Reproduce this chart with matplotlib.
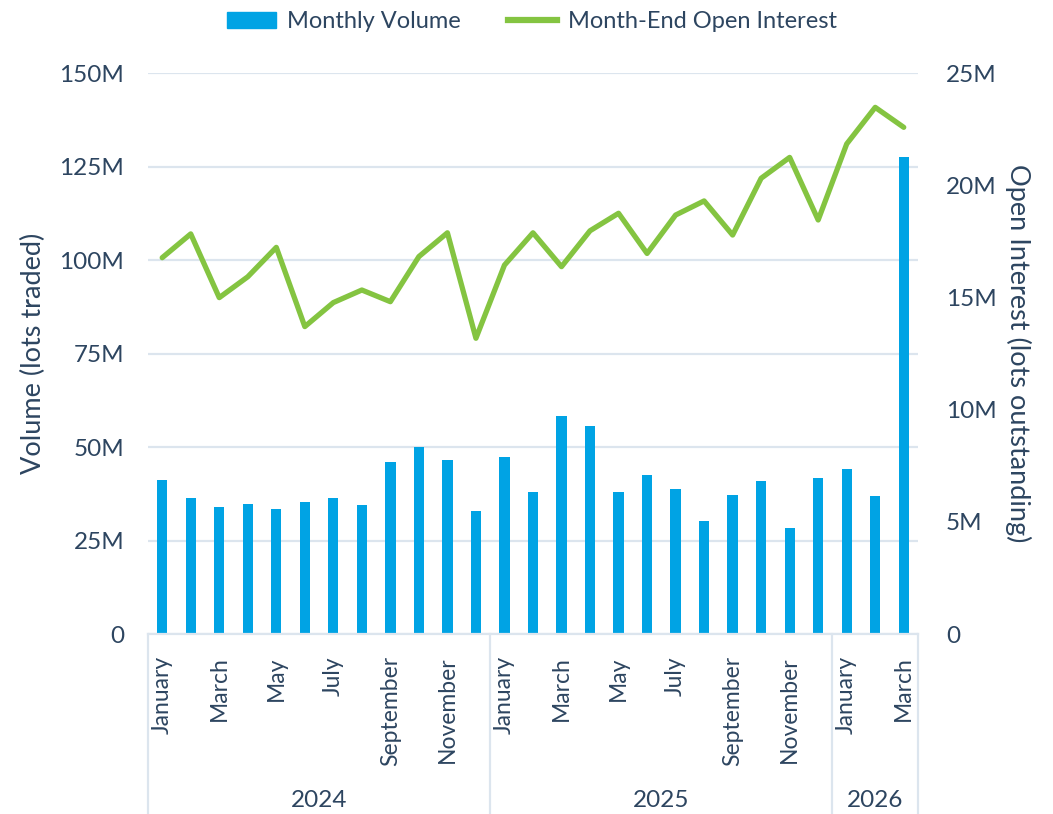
import numpy as np
import matplotlib
matplotlib.use("Agg")
import matplotlib.pyplot as plt
import matplotlib.transforms as mtransforms
from matplotlib.patches import Patch
from matplotlib.lines import Line2D

# data
months = ["January", "February", "March", "April", "May", "June", "July",
          "August", "September", "October", "November", "December"]
years = ["2024", "2025", "2026"]
months_per_year = [12, 12, 3]

volume = [41.3, 36.3, 33.9, 34.7, 33.3, 35.2, 36.3, 34.4, 46.1, 50.1, 46.6, 32.8,
          47.4, 37.9, 58.3, 55.7, 37.9, 42.4, 38.9, 30.1, 37.3, 41.0, 28.3, 41.8,
          44.0, 36.8, 127.5]
open_interest = [16.77, 17.83, 14.99, 15.92, 17.23, 13.70, 14.77, 15.33, 14.81, 16.82, 17.88, 13.18,
                 16.44, 17.88, 16.37, 17.97, 18.75, 16.96, 18.67, 19.30, 17.78, 20.31, 21.24, 18.45,
                 21.84, 23.47, 22.58]

month_labels = []
for n in months_per_year:
    month_labels += months[:n]

BLUE = "#00a3e4"
GREEN = "#84c441"
TEXT = "#2d4560"
GRID = "#dce5ee"

plt.rcParams["font.family"] = ["Lato", "DejaVu Sans"]

fig = plt.figure(figsize=(10.53, 8.14), dpi=100)
ax = fig.add_axes([0.1405, 0.2211, 0.7313, 0.6892])
ax2 = ax.twinx()

x = np.arange(len(volume))
ax.bar(x, volume, width=0.36, color=BLUE, zorder=2)
ax2.plot(x, open_interest, color=GREEN, lw=3.8, solid_joinstyle="round",
         solid_capstyle="round", zorder=3)

ax.set_xlim(-0.5, len(volume) - 0.5)
ax.set_ylim(0, 150)
ax2.set_ylim(0, 25)
ax.set_yticks(np.arange(0, 151, 25))
ax2.set_yticks(np.arange(0, 26, 5))
fmt = lambda v, p: "0" if v == 0 else f"{int(v)}M"
ax.yaxis.set_major_formatter(plt.FuncFormatter(fmt))
ax2.yaxis.set_major_formatter(plt.FuncFormatter(fmt))

ax.grid(axis="y", color=GRID, lw=1.6, zorder=0)
ax.set_axisbelow(True)

for a in (ax, ax2):
    for s in a.spines.values():
        s.set_visible(False)
    a.tick_params(axis="y", length=0, labelsize=17.5, labelcolor=TEXT)
ax.tick_params(axis="y", pad=17)
ax2.tick_params(axis="y", pad=20)

# month labels, every other month shown
ax.set_xticks(x[::2])
ax.set_xticklabels(month_labels[::2], rotation=90, va="top", ha="center")
ax.tick_params(axis="x", length=0, labelsize=16.5, labelcolor=TEXT, pad=16)

ax.set_ylabel("Volume (lots traded)", fontsize=19.5, color=TEXT, labelpad=10)
ax2.set_ylabel("Open Interest (lots outstanding)", fontsize=19.5, color=TEXT,
               rotation=-90, va="bottom", labelpad=6)

# multi-level category box
tr = mtransforms.blended_transform_factory(ax.transData, ax.transAxes)
ax.plot([-0.5, len(volume) - 0.5], [0, 0], transform=tr, color=GRID, lw=1.6,
        clip_on=False, zorder=4)
start = -0.5
bounds = [start]
for yr, n in zip(years, months_per_year):
    ax.text(start + n / 2, -0.296, yr, transform=tr, ha="center", va="center",
            fontsize=17.5, color=TEXT)
    start += n
    bounds.append(start)
for b in bounds:
    ax.plot([b, b], [0, -0.33], transform=tr, color=GRID, lw=1.6, clip_on=False)

handles = [Patch(color=BLUE, label="Monthly Volume"),
           Line2D([0], [0], color=GREEN, lw=4.5, label="Month-End Open Interest")]
fig.legend(handles=handles, loc="upper center", bbox_to_anchor=(0.505, 1.012),
           ncol=2, frameon=False, fontsize=17, handlelength=2.1, handletextpad=0.45,
           columnspacing=2.0, labelcolor=TEXT)

fig.savefig("out.png", dpi=100)
